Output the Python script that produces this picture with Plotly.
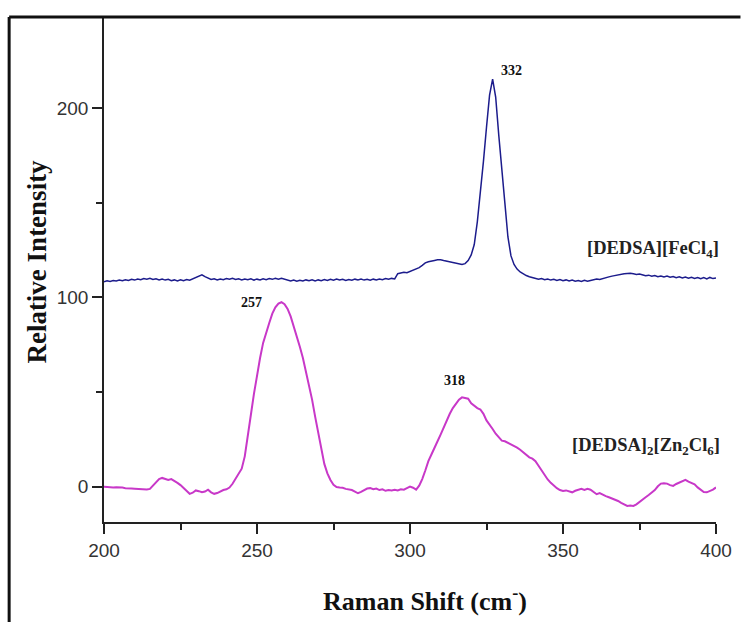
import plotly.graph_objects as go

# Raman shift grid (cm-1), one sample per unit
raman_shift = list(range(200, 401))

# [DEDSA][FeCl4] intensity
fecl4 = [
    108.3, 108.8, 108.5, 109.0, 108.7, 109.2, 108.9, 109.4, 109.0, 109.6,  # 200-209
    109.2, 109.8, 109.4, 110.0, 109.7, 110.2, 109.5, 109.9, 109.3, 109.8,  # 210-219
    109.2, 109.6, 108.9, 109.3, 108.8, 109.4, 108.9, 109.5, 109.1, 109.8,  # 220-229
    110.4, 111.2, 112.0, 111.0, 110.2, 109.5, 109.9, 109.3, 109.8, 109.4,  # 230-239
    110.0, 109.6, 110.1, 109.5, 109.9, 109.3, 109.8, 109.4, 109.9, 109.2,  # 240-249
    109.7, 109.3, 109.9, 109.4, 110.0, 109.6, 110.2, 109.7, 110.1, 109.5,  # 250-259
    109.0, 108.7, 109.2, 108.6, 109.1, 108.7, 109.3, 108.9, 109.4, 108.8,  # 260-269
    109.3, 108.9, 109.5, 109.0, 109.6, 109.1, 109.7, 109.2, 109.6, 109.0,  # 270-279
    109.5, 109.1, 109.7, 109.3, 109.8, 109.2, 109.6, 109.1, 109.7, 109.3,  # 280-289
    109.8, 109.4, 110.0, 109.6, 110.1, 109.8, 112.6, 112.9, 113.3, 113.1,  # 290-299
    113.8, 114.2, 114.9, 115.8, 117.0, 118.3, 118.9, 119.4, 119.6, 119.9,  # 300-309
    120.0, 119.6, 119.2, 118.8, 118.3, 118.0, 117.6, 117.5, 117.9, 119.5,  # 310-319
    122.5, 128.0, 140.0, 155.0, 172.0, 190.0, 207.0, 215.5, 206.0, 186.0,  # 320-329
    166.0, 150.0, 132.0, 122.0, 117.5, 115.0, 113.5, 112.4, 111.6, 111.0,  # 330-339
    110.6, 110.1, 109.6, 110.0, 109.4, 109.8, 109.2, 109.6, 109.0, 109.5,  # 340-349
    108.9, 109.3, 108.7, 109.2, 108.6, 109.0, 108.5, 109.1, 108.6, 109.0,  # 350-359
    109.3, 109.8, 109.5, 110.1, 110.5, 110.9, 111.3, 111.7, 112.0, 112.3,  # 360-369
    112.5, 112.7, 112.8, 112.5, 112.2, 112.4, 111.8, 111.5, 111.8, 111.2,  # 370-379
    111.6, 111.0, 111.4, 110.8, 111.3, 110.7, 111.1, 110.5, 110.9, 110.3,  # 380-389
    110.8, 110.2, 110.7, 110.1, 110.6, 109.9, 110.5, 109.8, 110.6, 110.0,  # 390-399
    110.3,                                                                # 400
]

# [DEDSA]2[Zn2Cl6] intensity
zn2cl6 = [
    0.0, -0.2, -0.1, -0.4, -0.3, -0.6, -0.5, -0.8, -0.7, -1.0,            # 200-209
    -1.1, -1.2, -1.3, -1.4, -1.5, -1.2, 0.5, 2.5, 4.0, 4.6,               # 210-219
    4.2, 3.5, 4.0, 3.2, 2.0, 0.8, -0.8, -2.5, -3.8, -3.2,                 # 220-229
    -2.0, -2.4, -3.0, -2.6, -1.6, -3.0, -3.8, -3.4, -2.5, -1.8,           # 230-239
    -1.4, -0.5, 1.5, 4.0, 6.5, 9.5, 16.0, 26.0, 38.0, 49.0,               # 240-249
    59.0, 68.0, 76.0, 82.0, 86.5, 91.5, 94.8, 96.8, 97.5, 96.5,           # 250-259
    94.0, 90.0, 85.0, 79.5, 74.0, 68.0, 61.0, 54.0, 46.0, 37.0,           # 260-269
    28.0, 19.0, 12.0, 7.0, 3.5, 1.0, -0.2, -0.5, -0.6, -1.2,              # 270-279
    -1.5, -1.8, -2.6, -3.5, -2.8, -1.8, -1.0, -0.8, -1.4, -1.0,           # 280-289
    -1.8, -1.4, -2.2, -1.8, -2.0, -1.6, -2.0, -1.4, -1.6, -0.8,           # 290-299
    0.0, -0.6, -1.6, 0.5, 4.0, 8.5, 13.5, 17.0, 21.0, 24.0,               # 300-309
    27.5, 31.5, 35.5, 38.5, 41.5, 44.0, 46.0, 47.2, 46.8, 46.5,           # 310-319
    44.0, 42.5, 41.5, 40.8, 38.5, 35.0, 33.0, 30.5, 28.0, 26.0,           # 320-329
    24.3, 24.0, 23.2, 22.0, 21.2, 20.6, 19.5, 18.0, 16.6, 15.5,           # 330-339
    14.8, 13.5, 11.0, 8.5, 6.0, 3.8, 2.0, 0.5, -0.8, -1.8,                # 340-349
    -2.3, -2.0, -2.6, -3.0, -2.2, -1.6, -1.2, -1.8, -1.2, -1.6,           # 350-359
    -3.0, -4.0, -3.4, -4.4, -5.0, -5.6, -6.2, -7.0, -7.6, -8.6,           # 360-369
    -9.6, -10.2, -10.0, -10.2, -9.4, -8.0, -6.8, -5.6, -4.4, -3.2,        # 370-379
    -1.8, 0.2, 1.6, 1.8, 1.6, 0.8, 0.4, 1.4, 2.2, 3.0,                    # 380-389
    3.6, 2.6, 1.8, 1.2, -0.4, -1.8, -2.8, -3.0, -2.4, -1.6,               # 390-399
    -0.4,                                                                 # 400
]

# Peak labels (position in data units, text)
peak_x = [333.3, 248.2, 314.6]
peak_y = [220.2, 97.1, 55.9]
peak_text = ["332", "257", "318"]

series_names = ["[DEDSA][FeCl<sub>4</sub>]", "[DEDSA]<sub>2</sub>[Zn<sub>2</sub>Cl<sub>6</sub>]"]
series_label_x = [379.3, 377.0]
series_label_y = [125.6, 21.0]

x_ticks = [200, 250, 300, 350, 400]
y_ticks = [0, 100, 200]

BLUE = "#1c1c8c"
MAGENTA = "#c838c8"

fig = go.Figure()
fig.add_trace(go.Scatter(x=raman_shift, y=fecl4, mode="lines",
                         line=dict(color=BLUE, width=1.5), showlegend=False))
fig.add_trace(go.Scatter(x=raman_shift, y=zn2cl6, mode="lines",
                         line=dict(color=MAGENTA, width=2), showlegend=False))

serif_bold = "Liberation Serif"
annotations = []
for px_, py_, t in zip(peak_x, peak_y, peak_text):
    annotations.append(dict(x=px_, y=py_, xref="x", yref="y", text=f"<b>{t}</b>",
                            showarrow=False, font=dict(family=serif_bold, size=14, color="#111")))
for nx, ny, t in zip(series_label_x, series_label_y, series_names):
    annotations.append(dict(x=nx, y=ny, xref="x", yref="y", text=f"<b>{t}</b>",
                            xanchor="center", yanchor="middle",
                            showarrow=False, font=dict(family=serif_bold, size=18.5, color="#222")))
# axis titles
annotations.append(dict(x=-0.11, y=0.515, xref="paper", yref="paper",
                        xanchor="center", yanchor="middle",
                        text="<b>Relative Intensity</b>", textangle=-90, showarrow=False,
                        font=dict(family=serif_bold, size=27, color="#111")))
annotations.append(dict(x=0.524, y=-0.153, xref="paper", yref="paper",
                        xanchor="center", yanchor="middle",
                        text="<b>Raman Shift (cm<sup>-</sup>)</b>", showarrow=False,
                        font=dict(family=serif_bold, size=26, color="#111")))

fig.update_layout(
    width=744, height=622,
    margin=dict(l=104, r=22, t=17, b=100),
    paper_bgcolor="white", plot_bgcolor="white",
    annotations=annotations,
    shapes=[
        dict(type="line", xref="paper", yref="paper", x0=-0.155, x1=1.04, y0=1.0, y1=1.0,
             line=dict(color="#111", width=3)),
        dict(type="line", xref="paper", yref="paper", x0=-0.155, x1=-0.155, y0=1.0, y1=-0.2,
             line=dict(color="#111", width=3)),
    ],
)
fig.update_xaxes(range=[200, 400], tickvals=x_ticks, ticks="outside", ticklen=10, tickwidth=1.5,
                 tickcolor="#222", showline=True, linecolor="#222", linewidth=1.5,
                 showgrid=False, zeroline=False,
                 tickfont=dict(family="Liberation Sans", size=19, color="#333"),
                 minor=dict(tickvals=[225, 275, 325, 375], ticks="outside", ticklen=6,
                            tickwidth=1.5, tickcolor="#222", showgrid=False))
fig.update_yaxes(range=[-18.7, 248.3], tickvals=y_ticks, ticks="outside", ticklen=10, tickwidth=1.5,
                 tickcolor="#222", showline=True, linecolor="#222", linewidth=1.5,
                 showgrid=False, zeroline=False,
                 tickfont=dict(family="Liberation Sans", size=19, color="#333"),
                 minor=dict(tickvals=[50, 150], ticks="outside", ticklen=6,
                            tickwidth=1.5, tickcolor="#222", showgrid=False))

fig.write_html("out.html")
